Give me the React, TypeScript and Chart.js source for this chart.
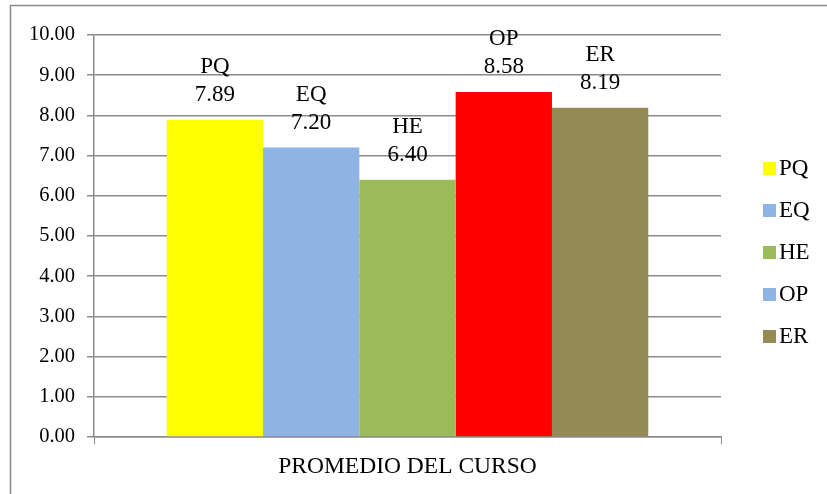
import React, { useEffect, useRef } from "react";
import { Chart, registerables } from "chart.js";

Chart.register(...registerables);

const categories = ["PROMEDIO DEL CURSO"];
const seriesNames = ["PQ", "EQ", "HE", "OP", "ER"];
const seriesValues = [7.89, 7.2, 6.4, 8.58, 8.19];
const barColors = ["#FFFF00", "#8EB4E3", "#9BBB59", "#FF0000", "#948A54"];
const legendColors = ["#FFFF00", "#8EB4E3", "#9BBB59", "#8EB4E3", "#948A54"];
const yTicks = [0, 1, 2, 3, 4, 5, 6, 7, 8, 9, 10];

const SERIF = "'Liberation Serif', 'Times New Roman', serif";
const GRID = "#8a8a8a";

const framePlugin = {
  id: "frame",
  beforeDraw(chart: any) {
    const ctx = chart.ctx;
    ctx.save();
    ctx.fillStyle = "#fff";
    ctx.fillRect(0, 0, chart.width, chart.height);
    ctx.strokeStyle = GRID;
    ctx.lineWidth = 1.5;
    ctx.beginPath();
    ctx.moveTo(10.5, chart.height);
    ctx.lineTo(10.5, 5.5);
    ctx.lineTo(chart.width, 5.5);
    ctx.stroke();
    ctx.restore();
  },
};

const labelPlugin = {
  id: "barLabels",
  afterDatasetsDraw(chart: any) {
    const ctx = chart.ctx;
    ctx.save();
    ctx.fillStyle = "#000";
    ctx.font = `23px ${SERIF}`;
    ctx.textAlign = "center";
    ctx.textBaseline = "middle";
    chart.data.datasets.forEach((ds: any, i: number) => {
      const meta = chart.getDatasetMeta(i);
      meta.data.forEach((bar: any, j: number) => {
        const v = ds.data[j];
        ctx.fillText(v.toFixed(2), bar.x, bar.y - 25);
        ctx.fillText(ds.label, bar.x, bar.y - 53);
      });
    });
    ctx.restore();
  },
};

const legendPlugin = {
  id: "customLegend",
  afterDraw(chart: any) {
    const ctx = chart.ctx;
    ctx.save();
    ctx.font = `23px ${SERIF}`;
    ctx.textAlign = "left";
    ctx.textBaseline = "middle";
    const startY = 168;
    const step = 42;
    seriesNames.forEach((name, i) => {
      const cy = startY + i * step;
      ctx.fillStyle = legendColors[i];
      ctx.fillRect(763, cy - 6, 13, 13);
      ctx.fillStyle = "#000";
      ctx.fillText(name, 779, cy + 1);
    });
    ctx.restore();
  },
};

export default function App() {
  const canvasRef = useRef<HTMLCanvasElement | null>(null);

  useEffect(() => {
    if (!canvasRef.current) return;
    const chart = new Chart(canvasRef.current, {
      type: "bar",
      data: {
        labels: categories,
        datasets: seriesNames.map((name, i) => ({
          label: name,
          data: [seriesValues[i]],
          backgroundColor: barColors[i],
          borderWidth: 0,
          categoryPercentage: 0.768,
          barPercentage: 1.0,
        })),
      },
      options: {
        animation: false,
        responsive: true,
        maintainAspectRatio: false,
        devicePixelRatio: 1,
        layout: { padding: { left: 0, right: 106, top: 35, bottom: 0 } },
        plugins: {
          legend: { display: false },
          tooltip: { enabled: false },
        },
        scales: {
          x: {
            grid: {
              drawOnChartArea: false,
              drawTicks: true,
              tickLength: 7,
              color: GRID,
              offset: true,
            },
            border: { color: GRID, width: 1.5 },
            ticks: {
              color: "#000",
              font: { family: SERIF, size: 23.5 },
              padding: 9,
            },
            afterFit(scale: any) {
              scale.height = 57;
            },
          },
          y: {
            min: 0,
            max: 10,
            afterBuildTicks(scale: any) {
              scale.ticks = yTicks.map((v) => ({ value: v }));
            },
            grid: {
              color: GRID,
              lineWidth: 1.5,
              drawTicks: true,
              tickLength: 7,
            },
            border: { color: GRID, width: 1.5 },
            ticks: {
              color: "#000",
              font: { family: SERIF, size: 20.5 },
              padding: 12,
              callback: (v: any) => Number(v).toFixed(2),
            },
            afterFit(scale: any) {
              scale.width = 94;
            },
          },
        },
      },
      plugins: [framePlugin, labelPlugin, legendPlugin],
    });
    return () => chart.destroy();
  }, []);

  return (
    <div style={{ position: "fixed", left: 0, top: 0, width: 827, height: 494, background: "#fff" }}>
      <canvas ref={canvasRef} />
    </div>
  );
}
